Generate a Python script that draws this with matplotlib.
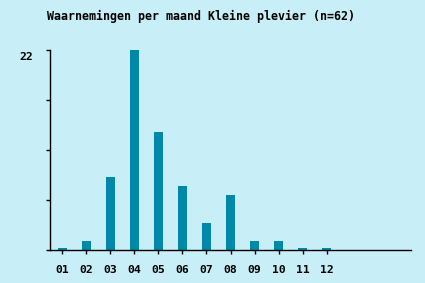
import matplotlib
matplotlib.use("Agg")
import matplotlib.pyplot as plt

months = ["01", "02", "03", "04", "05", "06", "07", "08", "09", "10", "11", "12"]
counts = [0, 1, 8, 22, 13, 7, 3, 6, 1, 1, 0, 0]
title = "Waarnemingen per maand Kleine plevier (n=62)"
ymax = 22

bg = "#c8eef7"
bar_color = "#0088a8"

fig = plt.figure(figsize=(4.25, 2.83), dpi=100, facecolor=bg)
ax = fig.add_axes([50/425, 33/283, 361/425, 200/283])
ax.set_facecolor(bg)

x = list(range(len(months)))
heights = [c if c > 0 else 0.25 for c in counts]
ax.bar(x, heights, width=9/24, color=bar_color, linewidth=0)

ax.set_xlim(-0.5, 14.5)
ax.set_ylim(0, ymax)
ax.set_xticks(x)
ax.set_xticklabels(months, family="DejaVu Sans Mono", fontweight="bold", fontsize=8.2)
ax.set_yticks([0, ymax/4, ymax/2, 3*ymax/4, ymax])
ax.set_yticklabels([])
ax.tick_params(axis="y", direction="out", length=3, width=1)
ax.tick_params(axis="x", direction="out", length=3, width=1, pad=8)

# label for the top tick, placed slightly below and left like the reference
fig.text(33/425, 1 - 57/283, str(ymax), ha="right", va="center",
         family="DejaVu Sans Mono", fontweight="bold", fontsize=8.2)

for s in ["top", "right"]:
    ax.spines[s].set_visible(False)
for s in ["left", "bottom"]:
    ax.spines[s].set_linewidth(1)
    ax.spines[s].set_color("black")

fig.text(47/425, 1 - 16/283, title, ha="left", va="center",
         family="DejaVu Sans Mono", fontweight="bold", fontsize=8.4)

fig.savefig("out.png", dpi=100, facecolor=bg)
